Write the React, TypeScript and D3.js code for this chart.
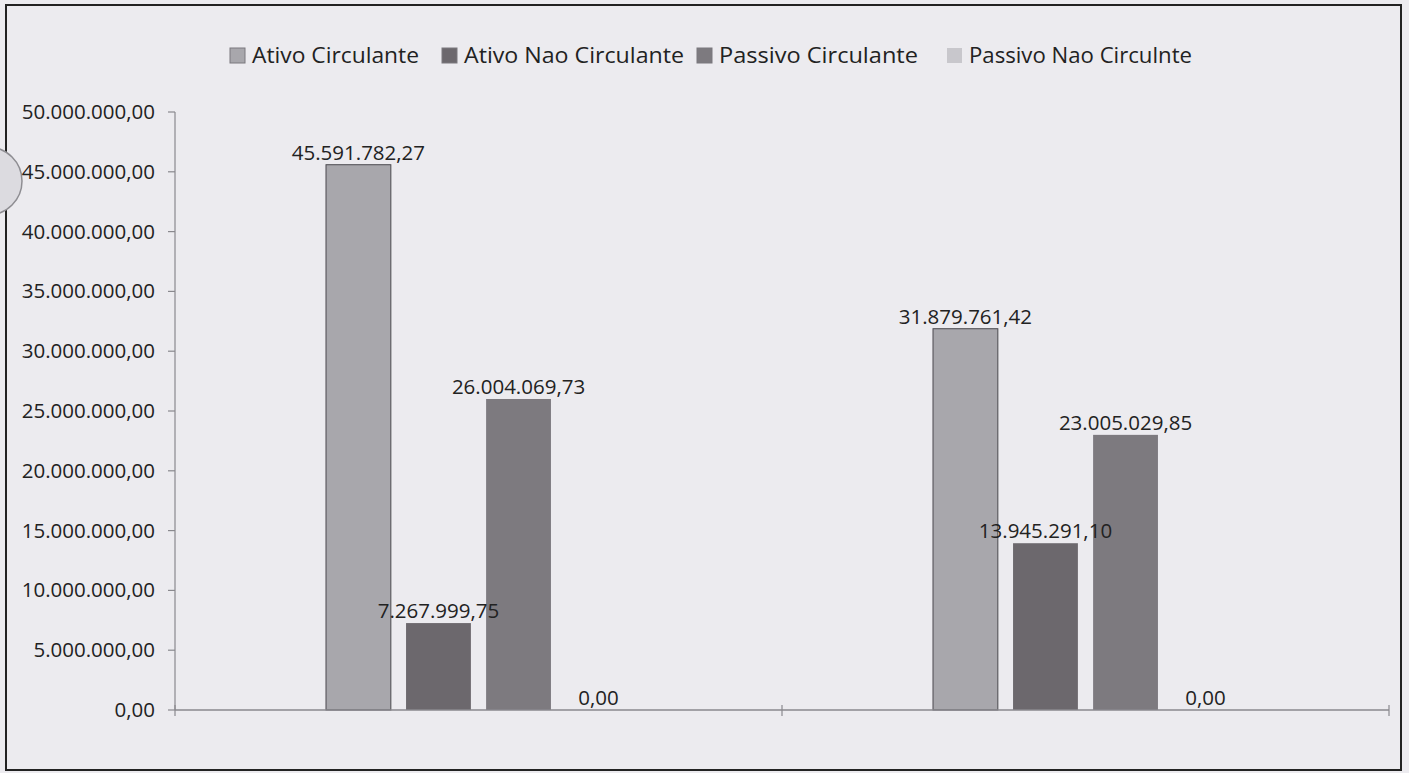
import React from "react";
import * as d3 from "d3";

const categories = ["Grupo 1", "Grupo 2"];
const seriesNames = ["Ativo Circulante", "Ativo Nao Circulante", "Passivo Circulante", "Passivo Nao Circulnte"];
const ativoCirculante = [45591782.27, 31879761.42];
const ativoNaoCirculante = [7267999.75, 13945291.1];
const passivoCirculante = [26004069.73, 23005029.85];
const passivoNaoCirculante = [0, 0];
const yTicks = [0, 5000000, 10000000, 15000000, 20000000, 25000000, 30000000, 35000000, 40000000, 45000000, 50000000];
const seriesColors = ["#a8a7ac", "#6c686d", "#7d7a7f", "#c8c7cc"];

const W = 1409;
const H = 773;
const FONT = "'Open Sans', sans-serif";

const locale = d3.formatLocale({ decimal: ",", thousands: ".", grouping: [3], currency: ["R$", ""] });
const fmt = locale.format(",.2f");

export default function App() {
  const series = [ativoCirculante, ativoNaoCirculante, passivoCirculante, passivoNaoCirculante];
  const left = 175;
  const right = 1389;
  const top = 112;
  const bottom = 710;
  const y = d3.scaleLinear().domain([0, 50000000]).range([bottom, top]);
  const x0 = d3.scaleBand().domain(categories).range([left, right]).paddingInner(0).paddingOuter(0);
  const groupW = x0.bandwidth();
  const barsW = 305;
  const x1 = d3
    .scaleBand()
    .domain(seriesNames)
    .range([(groupW - barsW) / 2, (groupW + barsW) / 2])
    .paddingInner(0.19)
    .paddingOuter(0);
  const bw = x1.bandwidth();

  const legendX = [230, 442, 697, 947];
  const legendLen = [167, 220, 199, 223];

  const cells = categories.flatMap((c, ci) =>
    seriesNames.map((s, si) => ({
      key: `${c}-${s}`,
      si,
      v: series[si][ci],
      x: (x0(c) as number) + (x1(s) as number),
    }))
  );

  return (
    <svg width={W} height={H} style={{ position: "absolute", left: 0, top: 0, background: "#ecebef" }} fontFamily={FONT}>
      <rect x={0} y={0} width={W} height={H} fill="#ecebef" />
      <rect x={6} y={5} width={1395} height={765} fill="none" stroke="#222" strokeWidth={2} />
      {/* hole punch artifact */}
      <circle cx={-12} cy={181} r={34} fill="#dcdbe0" stroke="#8e8d92" strokeWidth={1.5} />

      {/* legend */}
      {seriesNames.map((s, i) => (
        <g key={s} transform={`translate(${legendX[i]},48)`}>
          <rect x={0} y={0} width={15} height={15} fill={seriesColors[i]} stroke={i === 3 ? "none" : "#7a797e"} strokeWidth={1} />
          <text x={22} y={15} fontSize={21.5} fill="#222" textLength={legendLen[i]} lengthAdjust="spacingAndGlyphs">{s}</text>
        </g>
      ))}

      {/* y axis */}
      <line x1={left} x2={left} y1={top} y2={bottom} stroke="#8a898e" strokeWidth={1.2} />
      {yTicks.map((t) => (
        <g key={t}>
          <line x1={left - 7} x2={left} y1={y(t)} y2={y(t)} stroke="#8a898e" strokeWidth={1.2} />
          <text x={left - 20} y={y(t) + 7} textAnchor="end" fontSize={20.5} fill="#222">{fmt(t)}</text>
        </g>
      ))}

      {/* bars */}
      {cells.map((d) =>
        d.v > 0 ? (
          <rect
            key={d.key}
            x={d.x}
            y={y(d.v)}
            width={bw}
            height={bottom - y(d.v)}
            fill={seriesColors[d.si]}
            stroke={d.si === 0 ? "#4a494e" : "none"}
            strokeWidth={1}
          />
        ) : null
      )}

      {/* x axis */}
      <line x1={left} x2={right} y1={bottom} y2={bottom} stroke="#8a898e" strokeWidth={1.5} />
      {[...categories.map((c) => x0(c) as number), right].map((xx, i) => (
        <line key={i} x1={xx} x2={xx} y1={bottom - 5} y2={bottom + 6} stroke="#8a898e" strokeWidth={1.2} />
      ))}

      {/* data labels */}
      {cells.map((d) => (
        <text key={`l-${d.key}`} x={d.x + bw / 2} y={y(d.v) - 5} textAnchor="middle" fontSize={20.5} fill="#222">
          {fmt(d.v)}
        </text>
      ))}
    </svg>
  );
}
